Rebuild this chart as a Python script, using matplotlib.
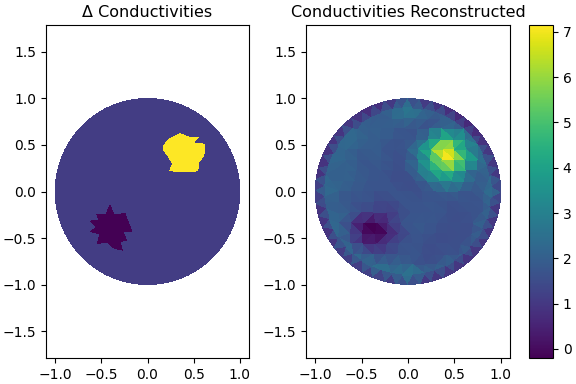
import numpy as np
import matplotlib
matplotlib.use('Agg')
import matplotlib.pyplot as plt
import matplotlib.tri as mtri

# colour range shared by both panels
vmin = -0.2
vmax = 7.15

# left panel, true conductivity
background_value = 1.12
high_value = 7.15
low_value = -0.2
high_x = [.171, .225, .35, .446, .55, .486, .618, .611, .55, .546, .436, .243, .271, .225, .171]
high_y = [.486, .557, .621, .586, .582, .525, .507, .389, .307, .221, .218, .221, .3, .379, .45]
low_x = [-.407, -.364, -.246, -.168, -.268, -.229, -.3, -.275, -.357, -.436, -.543, -.514, -.614,
         -.55, -.614, -.525, -.55, -.446]
low_y = [-.146, -.254, -.236, -.432, -.432, -.521, -.539, -.629, -.611, -.546, -.557, -.457, -.432,
         -.379, -.318, -.307, -.243, -.243]

# right panel, reconstructed values at mesh nodes, one list per row from top to bottom
rows = [
    [1.8, 1.9, 2.3, 2.4, 1.8, 1.7],
    [2.1, 2.0, 2.1, 1.9, 1.6, 1.5, 1.7, 2.4, 2.4],
    [2.3, 1.9, 1.9, 1.7, 1.7, 1.9, 2.8, 4.9, 5.0, 3.5],
    [2.2, 1.9, 2.0, 1.8, 1.6, 1.8, 3.0, 5.0, 7.5, 5.4, 3.6],
    [2.2, 1.8, 1.7, 1.9, 1.6, 1.6, 2.3, 4.2, 6.6, 7.0, 5.0, 2.8],
    [1.8, 2.1, 1.9, 1.7, 1.8, 1.5, 1.6, 2.5, 4.2, 5.2, 4.4, 2.7, 1.8],
    [2.1, 2.2, 1.9, 1.8, 1.7, 1.6, 1.5, 1.6, 2.1, 3.0, 3.2, 2.6, 1.9, 2.1],
    [2.0, 1.8, 1.8, 1.6, 1.8, 1.7, 1.5, 1.6, 1.8, 2.0, 1.9, 1.6, 2.0],
    [1.9, 1.8, 1.6, 1.7, 1.6, 1.3, 1.6, 1.8, 1.7, 1.8, 1.6, 1.7, 1.6, 1.8],
    [1.9, 2.1, 1.5, 1.2, 1.1, 1.4, 1.7, 1.6, 1.8, 1.6, 1.5, 1.7, 1.7],
    [2.2, 1.0, -0.1, -0.1, 0.9, 1.6, 1.9, 1.8, 1.7, 1.6, 1.5, 1.6],
    [1.6, 0.5, -0.5, 0.3, 1.0, 1.6, 1.7, 1.6, 1.4, 1.6, 1.5],
    [1.5, 0.8, 0.7, 1.1, 1.5, 1.8, 1.6, 1.5, 1.6, 1.5],
    [2.0, 1.5, 1.3, 1.7, 1.8, 1.6, 1.4, 1.7, 1.6],
    [2.2, 2.3, 1.9, 1.8, 1.5, 1.8],
]

# second ring of nodes just inside the boundary, counter clockwise
ring_values = [2.6, 2.3, 2.2, 2.3, 2.1, 1.9, 1.7, 1.7, 2.0, 2.1, 2.2, 2.8,
               2.9, 2.2, 2.0, 1.9, 2.0, 2.2, 2.3, 2.2, 2.1, 2.3, 2.2, 2.4,
               2.4, 2.2, 2.3, 2.2, 2.3, 2.5, 2.5, 2.3, 2.5, 2.7, 2.3, 2.8,
               2.9, 2.3, 2.2, 2.1, 2.1, 2.1, 2.0, 2.1, 2.2, 2.3, 2.2, 2.4]

# boundary node values, counter clockwise starting on the +x side
rim_values = [1.3, 0.4, 0.3, 0.4, 0.3, 0.2, 0.1, 0.2, 0.1, 0.3, 0.4, 0.6,
              1.5, 0.6, 0.3, 0.2, 0.3, 0.4, 0.3, 0.2, 0.3, 0.2, 0.1, 0.3,
              0.9, 0.3, 0.2, 0.3, 0.2, 0.4, 0.4, 0.6, 0.5, 0.7, 0.4, 0.6,
              1.4, 0.5, 0.3, 0.4, 0.5, 0.3, 0.4, 0.5, 0.3, 0.3, 0.4, 0.3]

# sideways nudge per row so the mesh does not look like a perfect lattice
row_shift = [0.02, -0.03, 0.03, -0.02, 0.04, -0.03, 0.01, 0.03, -0.04, 0.02, -0.02, 0.03, -0.03, 0.02, -0.01]

# lay out the mesh nodes from the rows above
dx = 0.13
dy = 0.1126
ring_radius = 0.9
xs, ys, vals = [], [], []
for j, row in enumerate(rows):
    n = len(row)
    xs.extend((np.arange(n) - (n - 1) / 2) * dx + row_shift[j])
    ys.extend([(7 - j) * dy] * n)
    vals.extend(row)
ring_angles = (np.arange(len(ring_values)) + 0.5) * 2 * np.pi / len(ring_values)
xs.extend(ring_radius * np.cos(ring_angles))
ys.extend(ring_radius * np.sin(ring_angles))
vals.extend(ring_values)
angles = np.arange(len(rim_values)) * 2 * np.pi / len(rim_values)
xs.extend(np.cos(angles))
ys.extend(np.sin(angles))
vals.extend(rim_values)

fig = plt.figure(figsize=(5.76, 3.84), dpi=100)
ax1 = fig.add_axes([46 / 576, 26 / 384, 203 / 576, 333 / 384])
ax2 = fig.add_axes([306 / 576, 26 / 384, 204 / 576, 333 / 384])
cax = fig.add_axes([529 / 576, 26 / 384, 24 / 576, 333 / 384])

cmap = plt.get_cmap('viridis')
norm = plt.Normalize(vmin, vmax)

t = np.linspace(0, 2 * np.pi, 240)
ax1.fill(np.cos(t), np.sin(t), color=cmap(norm(background_value)), lw=0, antialiased=False)
ax1.fill(high_x, high_y, color=cmap(norm(high_value)), lw=0, antialiased=False)
ax1.fill(low_x, low_y, color=cmap(norm(low_value)), lw=0, antialiased=False)
ax1.set_title('Δ Conductivities', fontsize=11.5)

tri = mtri.Triangulation(np.array(xs), np.array(ys))
im = ax2.tripcolor(tri, np.array(vals), shading='flat', cmap=cmap, norm=norm)
ax2.set_title('Conductivities Reconstructed', fontsize=11.5)

for ax in (ax1, ax2):
    ax.set_xlim(-1.1, 1.1)
    ax.set_ylim(-1.79, 1.79)
    ax.set_xticks([-1.0, -0.5, 0.0, 0.5, 1.0])
    ax.set_yticks([-1.5, -1.0, -0.5, 0.0, 0.5, 1.0, 1.5])

fig.colorbar(im, cax=cax, ticks=range(8))

fig.savefig('out.png', dpi=100)
